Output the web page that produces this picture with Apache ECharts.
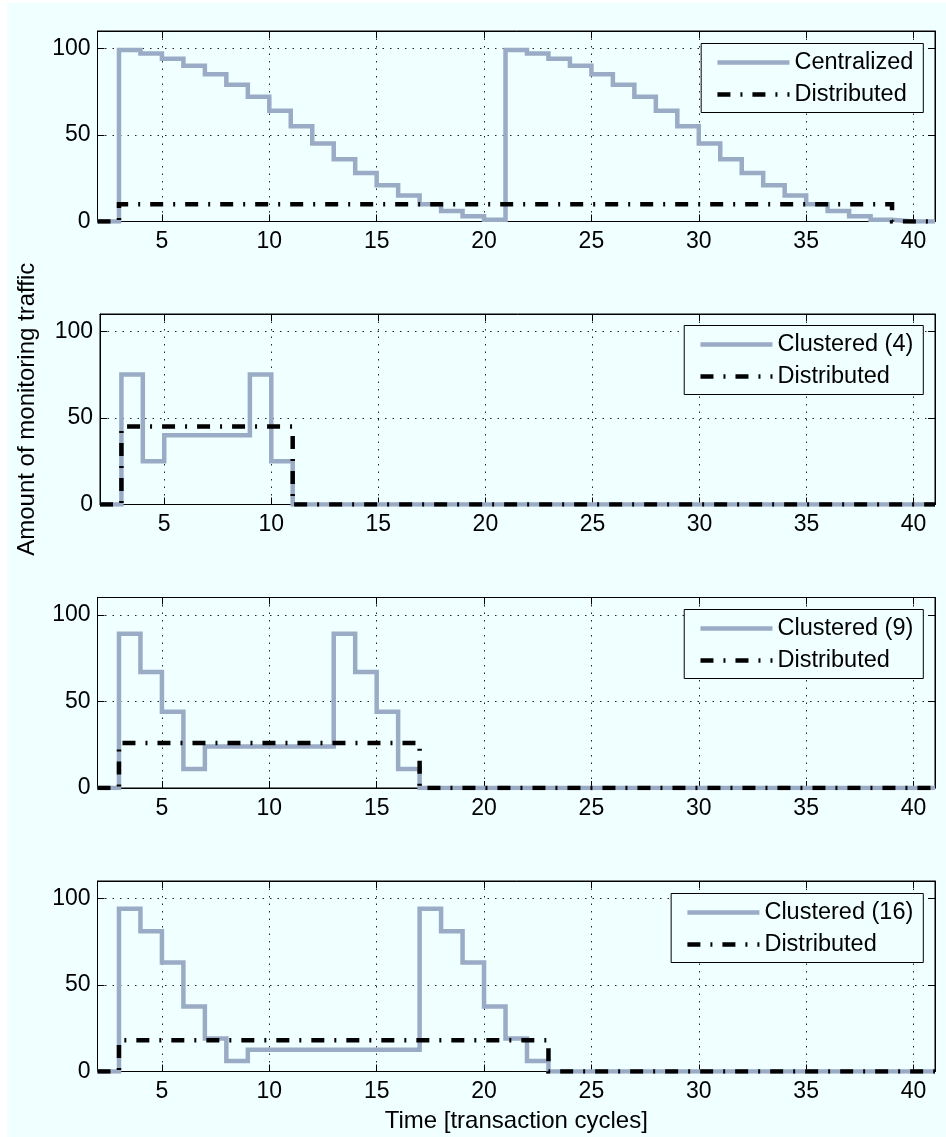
<!DOCTYPE html>
<html><head><meta charset="utf-8">
<script src="https://cdn.jsdelivr.net/npm/echarts@6/dist/echarts.min.js"></script>
<style>
html,body{margin:0;padding:0;background:#fff;}
#c{position:absolute;left:7px;top:3px;width:939px;height:1134px;}
</style></head><body><div id="c"></div>
<script>
// Time axis (transaction cycles)
const time = [2,3,4,5,6,7,8,9,10,11,12,13,14,15,16,17,18,19,20,21,22,23,24,25,26,27,28,29,30,31,32,33,34,35,36,37,38,39,40,41];
const xTicks = [5,10,15,20,25,30,35,40];
const yTicks = [0,50,100];

// Panel 1
const centralized = [0,99,97,94,90,85,79,72,64,55,45,36,28,21,15,10,6,3,1,99,97,94,90,85,79,72,64,55,45,36,28,21,15,10,6,3,1,0,0,0];
const distributed1 = [0,10,10,10,10,10,10,10,10,10,10,10,10,10,10,10,10,10,10,10,10,10,10,10,10,10,10,10,10,10,10,10,10,10,10,10,10,0,0,0];
// Panel 2
const clustered4 = [0,75,25,40,40,40,40,75,25,0,0,0,0,0,0,0,0,0,0,0,0,0,0,0,0,0,0,0,0,0,0,0,0,0,0,0,0,0,0,0];
const distributed4 = [0,45,45,45,45,45,45,45,45,0,0,0,0,0,0,0,0,0,0,0,0,0,0,0,0,0,0,0,0,0,0,0,0,0,0,0,0,0,0,0];
// Panel 3
const clustered9 = [0,89,67,44,11,24,24,24,24,24,24,89,67,44,11,0,0,0,0,0,0,0,0,0,0,0,0,0,0,0,0,0,0,0,0,0,0,0,0,0];
const distributed9 = [0,26,26,26,26,26,26,26,26,26,26,26,26,26,26,0,0,0,0,0,0,0,0,0,0,0,0,0,0,0,0,0,0,0,0,0,0,0,0,0];
// Panel 4
const clustered16 = [0,94,81,63,37.5,19,6,12.5,12.5,12.5,12.5,12.5,12.5,12.5,12.5,94,81,63,37.5,19,6,0,0,0,0,0,0,0,0,0,0,0,0,0,0,0,0,0,0,0];
const distributed16 = [0,18,18,18,18,18,18,18,18,18,18,18,18,18,18,18,18,18,18,18,18,0,0,0,0,0,0,0,0,0,0,0,0,0,0,0,0,0,0,0];

const panels = [
  {name:'Centralized', a:centralized, d:distributed1},
  {name:'Clustered (4)', a:clustered4, d:distributed4},
  {name:'Clustered (9)', a:clustered9, d:distributed9},
  {name:'Clustered (16)', a:clustered16, d:distributed16}
];

const FONT = "'Liberation Sans', Arial, Helvetica, sans-serif";
const BG = '#f0ffff';
const GRAY = '#9aabc6';
const gridTops = [28, 311, 594.5, 878];
const gridH = 190.5;
const legendTops = [40.5, 322.5, 606.5, 890.5];

const grids = [], xAxes = [], yAxes = [], series = [], legends = [];
const pair = arr => time.map((t,i)=>[t, arr[i]]);

panels.forEach((p, g) => {
  grids.push({left:90.5, top:gridTops[g], width:837.5, height:gridH, show:true,
    borderColor:'#000', borderWidth:1, backgroundColor:BG, containLabel:false});
  // bottom x axis
  xAxes.push({type:'value', gridIndex:g, min:2, max:41, position:'bottom',
    axisLine:{show:true, onZero:false, lineStyle:{color:'#000', width:1}},
    axisTick:{show:true, inside:true, length:7, customValues:xTicks, lineStyle:{color:'#000'}},
    axisLabel:{show:true, customValues:xTicks, margin:9, color:'#000', fontSize:23, fontFamily:FONT},
    splitLine:{show:true, lineStyle:{color:'#222', width:1, type:[1.5,6]}},
    name: g===3 ? 'Time [transaction cycles]' : '',
    nameLocation:'middle', nameGap:38,
    nameTextStyle:{color:'#000', fontSize:24, fontFamily:FONT}
  });
  // top x axis (ticks only)
  xAxes.push({type:'value', gridIndex:g, min:2, max:41, position:'top',
    axisLine:{show:true, onZero:false, lineStyle:{color:'#000', width:1}},
    axisTick:{show:true, inside:true, length:7, customValues:xTicks, lineStyle:{color:'#000'}},
    axisLabel:{show:false, customValues:xTicks},
    splitLine:{show:false}
  });
  // left y axis
  yAxes.push({type:'value', gridIndex:g, min:0, max:110, position:'left',
    axisLine:{show:true, onZero:false, lineStyle:{color:'#000', width:1}},
    axisTick:{show:true, inside:true, length:7, customValues:yTicks, lineStyle:{color:'#000'}},
    axisLabel:{show:true, customValues:yTicks, margin:7, color:'#000', fontSize:23, fontFamily:FONT},
    splitLine:{show:true, lineStyle:{color:'#222', width:1, type:[1.5,6]}},
    name: g===1 ? 'Amount of monitoring traffic' : '',
    nameLocation:'middle', nameGap:61, nameRotate:90,
    nameTextStyle:{color:'#000', fontSize:24, fontFamily:FONT}
  });
  // right y axis (ticks only)
  yAxes.push({type:'value', gridIndex:g, min:0, max:110, position:'right',
    axisLine:{show:true, onZero:false, lineStyle:{color:'#000', width:1}},
    axisTick:{show:true, inside:true, length:7, customValues:yTicks, lineStyle:{color:'#000'}},
    axisLabel:{show:false, customValues:yTicks},
    splitLine:{show:false}
  });
  series.push({type:'line', name:p.name, xAxisIndex:2*g, yAxisIndex:2*g, step:'end',
    data:pair(p.a), symbol:'none', showSymbol:false, silent:true, animation:false,
    lineStyle:{color:GRAY, width:4.5, cap:'butt', join:'miter'}, itemStyle:{color:GRAY}, z:2});
  series.push({type:'line', name:'Distributed', xAxisIndex:2*g, yAxisIndex:2*g, step:'end',
    data:pair(p.d), symbol:'none', showSymbol:false, silent:true, animation:false,
    lineStyle:{color:'#000', width:4.5, type:[13,10,2,10], cap:'butt', join:'miter'}, itemStyle:{color:'#000'}, z:3});
  legends.push({orient:'vertical', right:22.7, top:legendTops[g], data:[p.name,'Distributed'],
    backgroundColor:BG, borderColor:'#000', borderWidth:1, borderRadius:0,
    padding:[7,10,6,14], itemGap:8, itemWidth:72, itemHeight:24, selectedMode:false,
    itemStyle:{opacity:0},
    lineStyle:{width:4.5},
    textStyle:{color:'#000', fontSize:23.5, fontFamily:FONT, lineHeight:24}});
});

const chart = echarts.init(document.getElementById('c'), null, {renderer:'canvas'});
chart.setOption({
  backgroundColor:BG,
  animation:false,
  grid:grids, xAxis:xAxes, yAxis:yAxes, series:series, legend:legends
});
</script></body></html>
